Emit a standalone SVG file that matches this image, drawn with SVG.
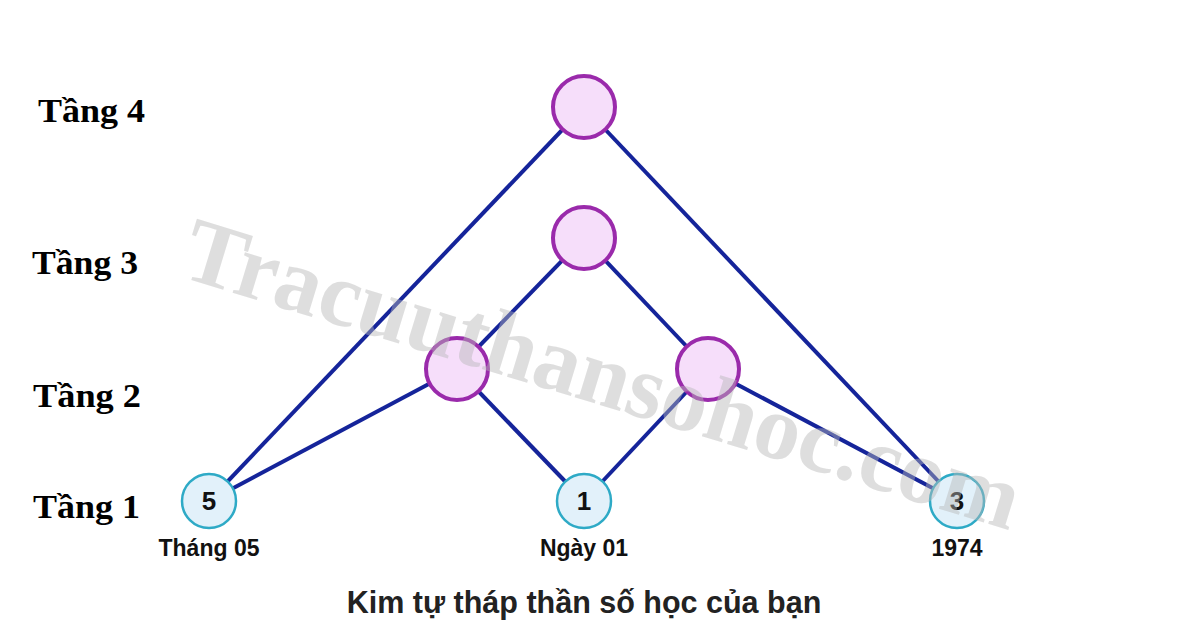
<svg xmlns="http://www.w3.org/2000/svg" width="1200" height="638" viewBox="0 0 1200 638">
<style>
.tier{font-family:"Liberation Serif","Times New Roman",serif;font-weight:bold;font-size:33px;fill:#000}
.edge{stroke:#15249a;stroke-width:4;fill:none}
.up{fill:#f6defa;stroke:#9a2aab;stroke-width:4}
.base{fill:#e2f1fa;stroke:#2eaac6;stroke-width:2.5}
.num{font-family:"Liberation Sans",Arial,sans-serif;font-weight:bold;font-size:26px;fill:#111;text-anchor:middle}
.lbl{font-family:"Liberation Sans",Arial,sans-serif;font-weight:bold;font-size:23px;fill:#111;text-anchor:middle}
.title{font-family:"Liberation Sans",Arial,sans-serif;font-weight:bold;font-size:30.5px;fill:#222;text-anchor:middle}
.wm{font-family:"Liberation Serif","Times New Roman",serif;font-weight:bold;font-size:92px;fill:#b8b8b8;opacity:0.45}
</style>
<rect width="1200" height="638" fill="#ffffff"/>
<g id="tier-labels">
<text class="tier" x="38" y="122" textLength="107" lengthAdjust="spacingAndGlyphs">Tầng 4</text>
<text class="tier" x="32" y="274" textLength="106" lengthAdjust="spacingAndGlyphs">Tầng 3</text>
<text class="tier" x="33" y="407" textLength="108" lengthAdjust="spacingAndGlyphs">Tầng 2</text>
<text class="tier" x="33" y="518" textLength="107" lengthAdjust="spacingAndGlyphs">Tầng 1</text>
</g>
<g id="connectors">
<line class="edge" x1="209" y1="501" x2="584" y2="107"/>
<line class="edge" x1="209" y1="501" x2="457" y2="369"/>
<line class="edge" x1="457" y1="369" x2="584" y2="238"/>
<line class="edge" x1="457" y1="369" x2="584" y2="501"/>
<line class="edge" x1="584" y1="501" x2="708" y2="369"/>
<line class="edge" x1="708" y1="369" x2="584" y2="238"/>
<line class="edge" x1="708" y1="369" x2="957" y2="501"/>
<line class="edge" x1="957" y1="501" x2="584" y2="107"/>
</g>
<g id="node-t4"><circle class="up" cx="584" cy="107" r="31"/></g>
<g id="node-t3"><circle class="up" cx="584" cy="238" r="31"/></g>
<g id="node-t2-left"><circle class="up" cx="457" cy="369" r="31"/></g>
<g id="node-t2-right"><circle class="up" cx="708" cy="369" r="31"/></g>
<g id="node-month">
<circle class="base" cx="209" cy="501" r="27"/>
<text class="num" x="209" y="510">5</text>
<text class="lbl" x="209" y="556">Tháng 05</text>
</g>
<g id="node-day">
<circle class="base" cx="584" cy="501" r="27"/>
<text class="num" x="584" y="510">1</text>
<text class="lbl" x="584" y="556">Ngày 01</text>
</g>
<g id="node-year">
<circle class="base" cx="957" cy="501" r="27"/>
<text class="num" x="957" y="510">3</text>
<text class="lbl" x="957" y="556">1974</text>
</g>
<text class="title" x="584" y="613">Kim tự tháp thần số học của bạn</text>
<text class="wm" x="178" y="276" transform="rotate(17 178 276)">Tracuuthansohoc.com</text>
</svg>
